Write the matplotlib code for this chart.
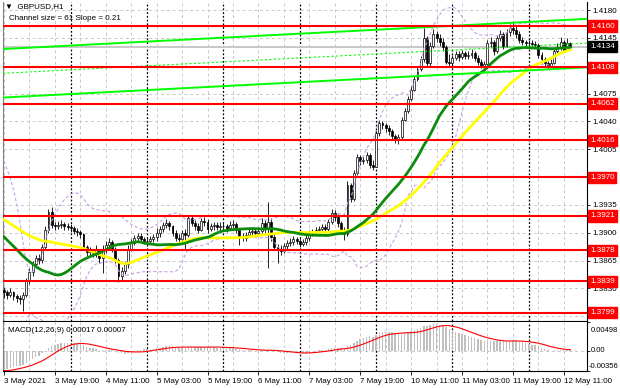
import numpy as np
import pandas as pd
import matplotlib
matplotlib.use('Agg')
import matplotlib.pyplot as plt
import matplotlib.transforms as mtransforms

plt.rcParams['font.family'] = ['Liberation Sans', 'DejaVu Sans']
plt.rcParams['font.size'] = 5.8

# closes before the first visible bar (needed only to warm up the indicators)
prior_close = [1.3955, 1.3960, 1.3962, 1.3958, 1.3955, 1.3952, 1.3950, 1.3954, 1.3958, 1.3960, 1.3956,
               1.3952, 1.3948, 1.3944, 1.3946, 1.3950, 1.3954, 1.3958, 1.3960, 1.3955, 1.3950,
               1.3946, 1.3942, 1.3940, 1.3944, 1.3948, 1.3952, 1.3950, 1.3946, 1.3942, 1.3946,
               1.3945, 1.3942, 1.3940, 1.3938, 1.3942, 1.3945, 1.3948, 1.3950, 1.3952, 1.3955,
               1.3950, 1.3946, 1.3950, 1.3954, 1.3958,
               1.3950, 1.3925, 1.3890, 1.3858, 1.3835, 1.3815, 1.3808, 1.3805, 1.3810, 1.3815,
               1.3818, 1.3822, 1.3826, 1.3828]

# GBPUSD H1, 3 May 03:00 -> 12 May 13:00
close = [1.3825, 1.3822, 1.3826, 1.3820, 1.3818, 1.3816, 1.3822, 1.3840, 1.3850, 1.3860,
         1.3868, 1.3866, 1.3882, 1.3903, 1.3926, 1.3910, 1.3908, 1.3910, 1.3911, 1.3909,
         1.3907, 1.3906, 1.3902, 1.3901, 1.3898, 1.3882, 1.3876, 1.3877, 1.3874, 1.3878,
         1.3868, 1.3878, 1.3885, 1.3888, 1.3880, 1.3866, 1.3845, 1.3852, 1.3860, 1.3880,
         1.3887, 1.3893, 1.3896, 1.3892, 1.3890, 1.3889, 1.3892, 1.3894, 1.3899, 1.3905,
         1.3910, 1.3912, 1.3908, 1.3900, 1.3893, 1.3892, 1.3900, 1.3897, 1.3918, 1.3912,
         1.3908, 1.3904, 1.3915, 1.3914, 1.3905, 1.3908, 1.3910, 1.3907, 1.3909, 1.3908,
         1.3906, 1.3910, 1.3911, 1.3903, 1.3896, 1.3893, 1.3897, 1.3901, 1.3902, 1.3900,
         1.3902, 1.3912, 1.3905, 1.3914, 1.3895, 1.3882, 1.3878, 1.3877, 1.3883, 1.3887,
         1.3888, 1.3892, 1.3890, 1.3886, 1.3888, 1.3893, 1.3899, 1.3901, 1.3903, 1.3905,
         1.3907, 1.3905, 1.3913, 1.3925, 1.3920, 1.3912, 1.3903, 1.3898, 1.3960, 1.3942,
         1.3975, 1.3995, 1.3990, 1.3992, 1.3998, 1.3985, 1.3983, 1.4025, 1.4038, 1.4035,
         1.4032, 1.4028, 1.4022, 1.4017, 1.4020, 1.4042, 1.4053, 1.4068, 1.4080, 1.4093,
         1.4106, 1.4118, 1.4145, 1.4113, 1.4135, 1.4150, 1.4145, 1.4140, 1.4133, 1.4115,
         1.4113, 1.4120, 1.4125, 1.4121, 1.4126, 1.4122, 1.4124, 1.4126, 1.4120, 1.4115,
         1.4110, 1.4112, 1.4138, 1.4140, 1.4128, 1.4145, 1.4150, 1.4135, 1.4152, 1.4158,
         1.4155, 1.4150, 1.4143, 1.4140, 1.4138, 1.4139, 1.4137, 1.4136, 1.4124, 1.4118,
         1.4113, 1.4110, 1.4114, 1.4128, 1.4133, 1.4140, 1.4130, 1.4138, 1.4134]
high = [1.3832, 1.3828, 1.3830, 1.3827, 1.3823, 1.3822, 1.3825, 1.3843, 1.3855, 1.3864,
        1.3872, 1.3873, 1.3886, 1.3908, 1.3930, 1.3932, 1.3914, 1.3915, 1.3916, 1.3914,
        1.3912, 1.3911, 1.3909, 1.3906, 1.3904, 1.3900, 1.3884, 1.3882, 1.3880, 1.3884,
        1.3880, 1.3884, 1.3889, 1.3893, 1.3891, 1.3882, 1.3868, 1.3857, 1.3864, 1.3884,
        1.3892, 1.3897, 1.3900, 1.3899, 1.3895, 1.3894, 1.3896, 1.3898, 1.3906, 1.3909,
        1.3914, 1.3917, 1.3915, 1.3910, 1.3903, 1.3898, 1.3904, 1.3905, 1.3922, 1.3921,
        1.3916, 1.3912, 1.3919, 1.3920, 1.3917, 1.3912, 1.3914, 1.3913, 1.3913, 1.3913,
        1.3911, 1.3915, 1.3916, 1.3913, 1.3906, 1.3899, 1.3901, 1.3905, 1.3906, 1.3905,
        1.3907, 1.3918, 1.3916, 1.3939, 1.3918, 1.3898, 1.3886, 1.3884, 1.3887, 1.3891,
        1.3893, 1.3896, 1.3895, 1.3893, 1.3892, 1.3897, 1.3903, 1.3905, 1.3907, 1.3909,
        1.3911, 1.3911, 1.3917, 1.3930, 1.3929, 1.3923, 1.3915, 1.3907, 1.3965, 1.3962,
        1.3979, 1.3999, 1.3998, 1.3997, 1.4002, 1.4000, 1.3992, 1.4029, 1.4042, 1.4041,
        1.4038, 1.4035, 1.4030, 1.4024, 1.4024, 1.4046, 1.4057, 1.4072, 1.4084, 1.4097,
        1.4110, 1.4122, 1.4157, 1.4148, 1.4140, 1.4156, 1.4154, 1.4150, 1.4145, 1.4136,
        1.4125, 1.4124, 1.4129, 1.4128, 1.4130, 1.4129, 1.4128, 1.4131, 1.4129, 1.4124,
        1.4118, 1.4116, 1.4142, 1.4146, 1.4143, 1.4149, 1.4155, 1.4153, 1.4156, 1.4163,
        1.4166, 1.4160, 1.4154, 1.4146, 1.4143, 1.4143, 1.4142, 1.4141, 1.4138, 1.4127,
        1.4121, 1.4116, 1.4118, 1.4132, 1.4138, 1.4146, 1.4143, 1.4145, 1.4140]
low = [1.3818, 1.3817, 1.3819, 1.3815, 1.3813, 1.3810, 1.3801, 1.3819, 1.3836, 1.3846,
       1.3856, 1.3860, 1.3862, 1.3878, 1.3900, 1.3906, 1.3903, 1.3905, 1.3906, 1.3904,
       1.3903, 1.3901, 1.3898, 1.3896, 1.3893, 1.3878, 1.3871, 1.3872, 1.3869, 1.3870,
       1.3862, 1.3849, 1.3874, 1.3881, 1.3876, 1.3862, 1.3838, 1.3840, 1.3848, 1.3856,
       1.3877, 1.3884, 1.3889, 1.3888, 1.3886, 1.3884, 1.3886, 1.3888, 1.3890, 1.3895,
       1.3901, 1.3906, 1.3904, 1.3896, 1.3889, 1.3886, 1.3889, 1.3880, 1.3894, 1.3908,
       1.3904, 1.3899, 1.3902, 1.3909, 1.3900, 1.3902, 1.3904, 1.3903, 1.3904, 1.3903,
       1.3901, 1.3903, 1.3906, 1.3899, 1.3884, 1.3889, 1.3890, 1.3895, 1.3897, 1.3896,
       1.3897, 1.3899, 1.3900, 1.3856, 1.3890, 1.3878, 1.3862, 1.3872, 1.3874, 1.3880,
       1.3883, 1.3885, 1.3886, 1.3882, 1.3883, 1.3885, 1.3890, 1.3896, 1.3898, 1.3900,
       1.3902, 1.3900, 1.3902, 1.3911, 1.3915, 1.3907, 1.3898, 1.3891, 1.3896, 1.3938,
       1.3940, 1.3972, 1.3985, 1.3986, 1.3988, 1.3981, 1.3979, 1.3998, 1.4022, 1.4030,
       1.4027, 1.4023, 1.4017, 1.4013, 1.4012, 1.4018, 1.4040, 1.4051, 1.4066, 1.4078,
       1.4091, 1.4104, 1.4115, 1.4108, 1.4110, 1.4132, 1.4140, 1.4135, 1.4128, 1.4112,
       1.4108, 1.4110, 1.4117, 1.4116, 1.4119, 1.4118, 1.4119, 1.4120, 1.4116, 1.4111,
       1.4107, 1.4106, 1.4110, 1.4133, 1.4124, 1.4126, 1.4141, 1.4131, 1.4133, 1.4148,
       1.4150, 1.4145, 1.4139, 1.4136, 1.4134, 1.4134, 1.4133, 1.4132, 1.4120, 1.4114,
       1.4109, 1.4107, 1.4108, 1.4112, 1.4126, 1.4130, 1.4127, 1.4128, 1.4130]

levels = [1.4160, 1.4108, 1.4062, 1.4016, 1.3970, 1.3921, 1.3878, 1.3839, 1.3799]
last_price = 1.4134
price_ticks = [1.4180, 1.4145, 1.4110, 1.4075, 1.4040, 1.4005, 1.3970, 1.3935,
               1.3900, 1.3865, 1.3830, 1.3795]
hidden_ticks = [1.4110, 1.3970, 1.3795]   # covered by the level labels
channel_upper = [1.4131, 1.4169]   # at left / right edge of the chart
channel_size = 0.0061
time_ticks = [0, 16, 32, 48, 64, 80, 96, 112, 128, 144, 160, 176]
time_labels = ['3 May 2021', '3 May 19:00', '4 May 11:00', '5 May 03:00', '5 May 19:00',
               '6 May 11:00', '7 May 03:00', '7 May 19:00', '10 May 11:00', '11 May 03:00',
               '11 May 19:00', '12 May 11:00']
day_starts = [21, 45, 69, 93, 117, 141, 165]
macd_max, macd_min = 0.00498, -0.00356

#------------------------------------------------------------------------------
n0 = len(prior_close)
s = pd.Series(prior_close + close)
ma30 = s.rolling(30).mean().iloc[n0:].values
ma50 = s.rolling(50).mean().iloc[n0:].values
bb_mid = s.rolling(20).mean()
bb_std = s.rolling(20).std(ddof=0)
bb_up = (bb_mid + 2 * bb_std).iloc[n0:].values
bb_dn = (bb_mid - 2 * bb_std).iloc[n0:].values
macd_all = s.ewm(span=12, adjust=False).mean() - s.ewm(span=26, adjust=False).mean()
macd = macd_all.iloc[n0:].values
signal = macd_all.rolling(9).mean().iloc[n0:].values

c = np.array(close)
o = np.array([prior_close[-1]] + close[:-1])
x = np.arange(len(close))
xlim = (-0.3, 183.3)

fig = plt.figure(figsize=(6.2, 3.88), dpi=100)
ax = fig.add_axes([3/620, 1-321/388, 584/620, 319/388])
ax2 = fig.add_axes([3/620, 1-371/388, 584/620, 49/388])

grid_kw = dict(color='#c8c8c8', linestyle=(0, (3, 3)), linewidth=0.7, zorder=0)
for a in (ax, ax2):
    for g in range(0, 184, 8):
        a.axvline(g, **grid_kw)
    for d in day_starts:
        a.axvline(d, color='black', linestyle=(0, (1.5, 1.5)), linewidth=0.9, zorder=1)
    a.set_xlim(*xlim)
    a.yaxis.tick_right()
    a.tick_params(axis='y', length=2.5, width=0.6, pad=1.5, labelsize=5.8)
    for sp in a.spines.values():
        sp.set_linewidth(0.8)
    a.spines['left'].set_color('#808080')
    a.spines['top'].set_visible(False)

for p in price_ticks:
    ax.axhline(p, **grid_kw)

# bid line
ax.axhline(last_price, color='#c8c8c8', linewidth=1.4, zorder=1)

# candles
up = c >= o
ax.vlines(x, low, high, color='black', linewidth=0.6, zorder=3)
ax.bar(x[up], np.maximum(c[up] - o[up], 0.00003), bottom=o[up], width=0.6,
       color='white', edgecolor='black', linewidth=0.5, zorder=4)
ax.bar(x[~up], o[~up] - c[~up], bottom=c[~up], width=0.6,
       color='black', edgecolor='black', linewidth=0.5, zorder=4)

# indicators
ax.plot(x, bb_up, color='#c9a0e6', linestyle=(0, (3, 2)), linewidth=0.8, zorder=5)
ax.plot(x, bb_dn, color='#c9a0e6', linestyle=(0, (3, 2)), linewidth=0.8, zorder=5)
ax.plot(x, ma50, color='#ffff00', linewidth=2.0, zorder=6)
ax.plot(x, ma30, color='#0c8c0c', linewidth=2.0, zorder=6)

# channel
ax.plot(xlim, channel_upper, color='#00ff00', linewidth=1.4, zorder=7)
ax.plot(xlim, [v - channel_size for v in channel_upper], color='#00ff00', linewidth=1.4, zorder=7)
ax.plot(xlim, [v - channel_size / 2 for v in channel_upper], color='#00ff00',
        linestyle=(0, (2, 2)), linewidth=0.8, zorder=7)

# support / resistance levels
for lv in levels:
    ax.axhline(lv, color='#ff0000', linewidth=1.5, zorder=8)

ax.set_ylim(1.37889, 1.41902)
ax.set_yticks(price_ticks)
ax.set_yticklabels(['' if p in hidden_ticks else '%.4f' % p for p in price_ticks])
ax.set_xticks([])

trans = mtransforms.blended_transform_factory(ax.transAxes, ax.transData)
for lv in levels:
    ax.text(1.005, lv, '%.4f' % lv, transform=trans, color='white', fontsize=5.8, va='center',
            ha='left', clip_on=False, zorder=10,
            bbox=dict(boxstyle='square,pad=0.25', fc='#ff0000', ec='#ff0000'))
ax.text(1.005, last_price, '%.4f' % last_price, transform=trans, color='white', fontsize=5.8,
        va='center', ha='left', clip_on=False, zorder=10,
        bbox=dict(boxstyle='square,pad=0.25', fc='black', ec='black'))

ax.text(2/584, 1-5/319, '\u25bc  GBPUSD,H1', transform=ax.transAxes, fontsize=5.8,
        va='center', ha='left')
ax.text(6/584, 1-16/319, 'Channel size = 61 Slope = 0.21', transform=ax.transAxes,
        fontsize=5.8, va='center', ha='left')

# MACD
ax2.bar(x, macd, width=0.45, color='#c0c0c0', zorder=2)
ax2.plot(x, signal, color='#ff0000', linewidth=0.8, zorder=3)
ax2.set_ylim(macd_min, macd_max)
ax2.set_yticks([macd_max, 0.0, macd_min])
ax2.set_yticklabels([])
# MT4 prints the window max/min just inside the panel edges
ax2.text(1.006, 1-8/49, '%.5f' % macd_max, transform=ax2.transAxes, fontsize=5.5,
         va='center', ha='left', clip_on=False)
ax2.text(1.006, 0.0, '0.00', transform=mtransforms.blended_transform_factory(ax2.transAxes, ax2.transData),
         fontsize=5.5, va='center', ha='left', clip_on=False)
ax2.text(1.002, 4/49, '%.5f' % macd_min, transform=ax2.transAxes, fontsize=5.5,
         va='center', ha='left', clip_on=False)
ax2.axhline(0.0, **grid_kw)
ax2.text(5/584, 1-8/49, 'MACD(12,26,9) 0.00017 0.00007', transform=ax2.transAxes,
         fontsize=5.8, va='center', ha='left')
ax2.set_xticks(time_ticks)
ax2.set_xticklabels(time_labels, ha='left')
ax2.tick_params(axis='x', length=3, width=0.6, pad=2, labelsize=5.8)

fig.savefig('out.png', dpi=100)
